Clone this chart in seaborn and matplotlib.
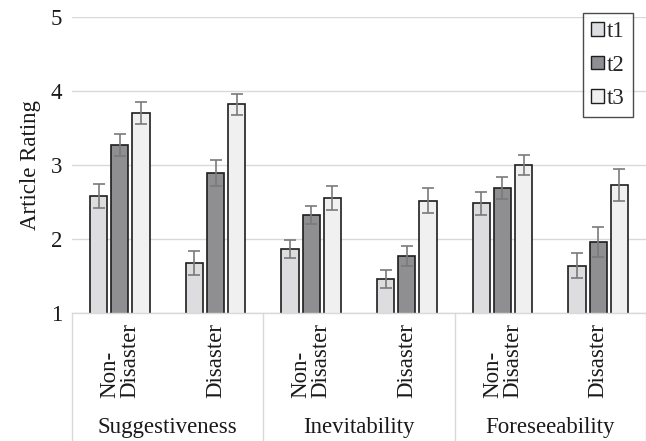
import matplotlib
matplotlib.use("Agg")
import matplotlib.pyplot as plt
import matplotlib.transforms as mtransforms
from matplotlib.patches import Patch
from matplotlib.lines import Line2D
import seaborn as sns
import pandas as pd

# ---- data ----
groups = ["Suggestiveness", "Inevitability", "Foreseeability"]
conditions = ["Non-\nDisaster", "Disaster"]
times = ["t1", "t2", "t3"]
cat_keys = ["S_ND", "S_D", "I_ND", "I_D", "F_ND", "F_D"]

t1_vals = [2.58, 1.68, 1.87, 1.46, 2.48, 1.64]
t2_vals = [3.27, 2.89, 2.32, 1.77, 2.69, 1.96]
t3_vals = [3.70, 3.82, 2.55, 2.52, 3.00, 2.73]

t1_err = [0.16, 0.16, 0.12, 0.12, 0.155, 0.165]
t2_err = [0.15, 0.175, 0.12, 0.14, 0.15, 0.20]
t3_err = [0.15, 0.14, 0.16, 0.17, 0.135, 0.22]

yticks = [1, 2, 3, 4, 5]

colors = {"t1": "#dcdde0", "t2": "#8e8f93", "t3": "#eff0ef"}

vals = {"t1": t1_vals, "t2": t2_vals, "t3": t3_vals}
errs = {"t1": t1_err, "t2": t2_err, "t3": t3_err}

rows = []
for t in times:
    for k, v in zip(cat_keys, vals[t]):
        rows.append({"cat": k, "time": t, "rating": v})
df = pd.DataFrame(rows)

# ---- style ----
sns.set_style("white")
plt.rcParams["font.family"] = ["Liberation Serif", "DejaVu Serif"]
FS = 16.5

fig = plt.figure(figsize=(6.46, 4.41), dpi=100)
ax = fig.add_axes([72 / 646, (441 - 313) / 441, 1 - 72 / 646, (313 - 17) / 441])

sns.barplot(data=df, x="cat", y="rating", hue="time", order=cat_keys,
            hue_order=times, palette=colors, width=0.66, gap=0.18,
            edgecolor="#1e1e1e", linewidth=1.2, errorbar=None, ax=ax,
            legend=False, zorder=2)

# error bars
for cont, t in zip(ax.containers, times):
    xs = [b.get_x() + b.get_width() / 2 for b in cont]
    ax.errorbar(xs, vals[t], yerr=errs[t], fmt="none", ecolor="#7a7a7a",
                elinewidth=1.2, capsize=4, capthick=1.2, zorder=3)

ax.set_ylim(1, 5)
ax.set_xlim(-0.5, 5.5)
ax.set_yticks(yticks)
ax.set_yticklabels([str(v) for v in yticks], fontsize=FS, color="#1a1a1a")
ax.yaxis.grid(True, color="#d9d9d9", linewidth=1.0, zorder=0)
ax.set_axisbelow(True)
ax.tick_params(axis="y", length=0, pad=7)
ax.set_ylabel("Article Rating", fontsize=FS, labelpad=7, color="#1a1a1a")
ax.set_xlabel("")

ax.set_xticks(range(len(cat_keys)))
ax.set_xticklabels(conditions * len(groups), rotation=90, fontsize=FS,
                   va="top", ha="center", multialignment="left",
                   linespacing=0.95, color="#1a1a1a")
ax.tick_params(axis="x", length=0, pad=7)

for side in ["top", "right", "left"]:
    ax.spines[side].set_visible(False)
ax.spines["bottom"].set_color("#d9d9d9")
ax.spines["bottom"].set_linewidth(1.0)

# group labels and separators
trans = mtransforms.blended_transform_factory(ax.transData, fig.transFigure)
for i, g in enumerate(groups):
    ax.text(2 * i + 0.5, 1 - 427 / 441, g, transform=trans, ha="center",
            va="center", fontsize=FS, color="#1a1a1a")
for xsep in [-0.5, 1.5, 3.5, 5.5]:
    ax.add_line(Line2D([xsep, xsep], [0, (441 - 313) / 441], transform=trans,
                       color="#d9d9d9", linewidth=1.0, clip_on=False))

# legend
handles = [Patch(facecolor=colors[t], edgecolor="#1e1e1e", linewidth=1.0)
           for t in times]
leg = fig.legend(handles, times, loc="upper right",
                 bbox_to_anchor=(633 / 646, 1 - 13 / 441),
                 bbox_transform=fig.transFigure, borderaxespad=0,
                 fontsize=FS, frameon=True, fancybox=False,
                 handlelength=0.55, handleheight=0.55, handletextpad=0.15,
                 labelspacing=0.55, borderpad=0.35)
leg.get_frame().set_edgecolor("#1e1e1e")
leg.get_frame().set_linewidth(1.0)

fig.savefig("out.png", dpi=100)
